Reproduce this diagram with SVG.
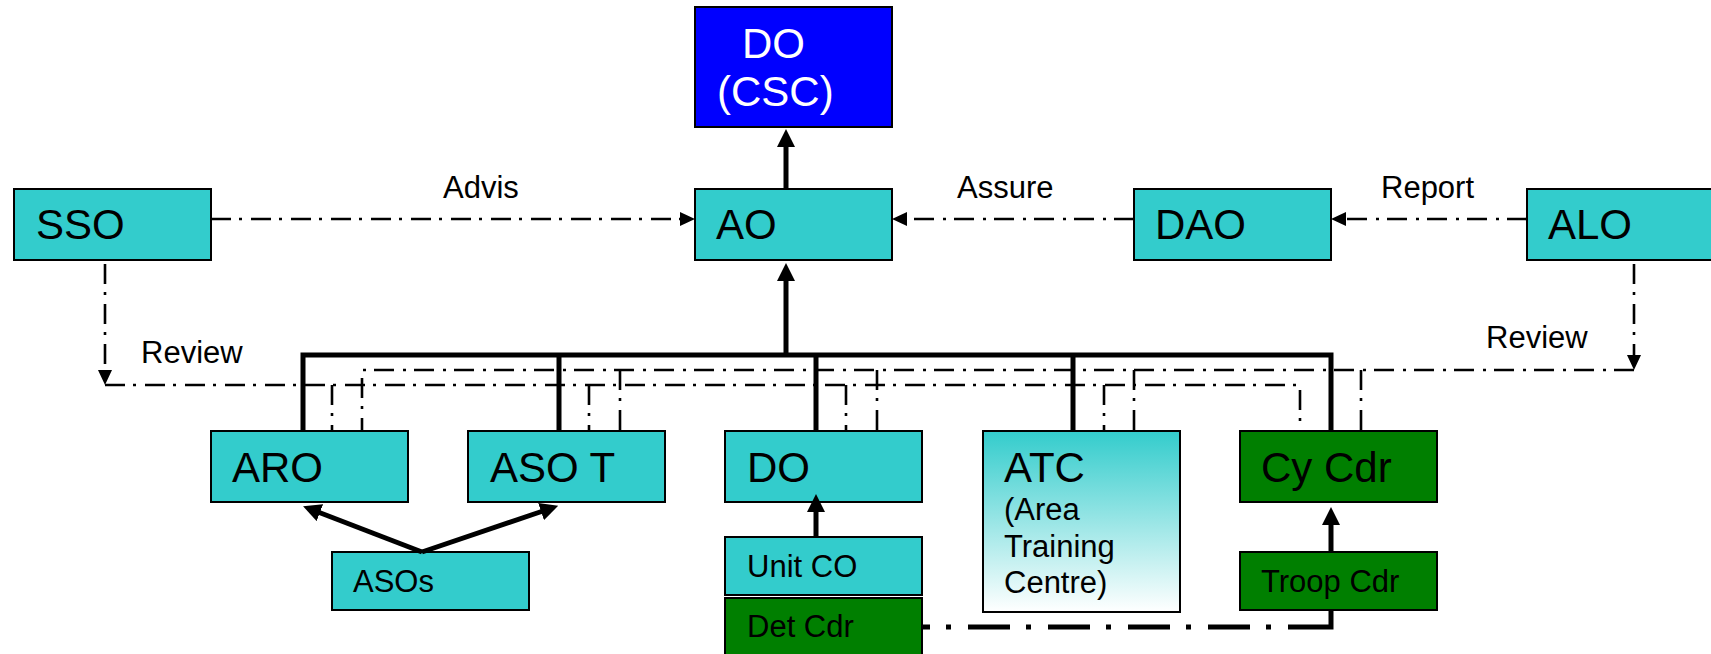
<svg xmlns="http://www.w3.org/2000/svg" width="1711" height="654" viewBox="0 0 1711 654">
<style>
  text { font-family: "Liberation Sans", Arial, sans-serif; fill: #000; }
  .big { font-size: 42px; }
  .sm { font-size: 31px; }
  .lbl { font-size: 31px; }
  .wt { fill: #fff; }
  .cy { fill: #33CCCC; stroke: #000; stroke-width: 2; }
  .gr { fill: #007F00; stroke: #000; stroke-width: 2; }
  .bl { fill: #0000FF; stroke: #000; stroke-width: 2; }
  .thick { fill: none; stroke: #000; stroke-width: 5; stroke-linejoin: miter; }
  .dd { fill: none; stroke: #000; stroke-width: 2.6; stroke-dasharray: 20 8 3 9; }
  .ddthick { fill: none; stroke: #000; stroke-width: 5; stroke-dasharray: 42 16 5 17; stroke-dashoffset: 34; }
</style>
<defs>
  <marker id="ah" markerUnits="userSpaceOnUse" markerWidth="18" markerHeight="18" refX="2" refY="9" orient="auto">
    <path d="M0,0 L18,9 L0,18 z" fill="#000"/>
  </marker>
  <marker id="ad" markerUnits="userSpaceOnUse" markerWidth="15" markerHeight="14" refX="1" refY="7" orient="auto">
    <path d="M0,0 L15,7 L0,14 z" fill="#000"/>
  </marker>
  <linearGradient id="atcg" x1="0" y1="0" x2="0" y2="1">
    <stop offset="0" stop-color="#33CCCC"/>
    <stop offset="1" stop-color="#FFFFFF"/>
  </linearGradient>
</defs>

<g id="nodes">
  <g id="csc"><rect class="bl" x="695" y="7" width="197" height="120"/>
    <text class="big wt" x="742" y="58" font-size="41">DO</text>
    <text class="big wt" x="717" y="106" font-size="41">(CSC)</text></g>
  <g id="ao"><rect class="cy" x="695" y="189" width="197" height="71"/><text class="big" x="716" y="239">AO</text></g>
  <g id="sso"><rect class="cy" x="14" y="189" width="197" height="71"/><text class="big" x="36" y="239">SSO</text></g>
  <g id="dao"><rect class="cy" x="1134" y="189" width="197" height="71"/><text class="big" x="1155" y="239">DAO</text></g>
  <g id="alo"><rect class="cy" x="1527" y="189" width="197" height="71"/><text class="big" x="1548" y="239">ALO</text></g>
  <g id="aro"><rect class="cy" x="211" y="431" width="197" height="71"/><text class="big" x="232" y="482">ARO</text></g>
  <g id="asot"><rect class="cy" x="468" y="431" width="197" height="71"/><text class="big" x="490" y="482">ASO T</text></g>
  <g id="do"><rect class="cy" x="725" y="431" width="197" height="71"/><text class="big" x="747" y="482">DO</text></g>
  <g id="atc"><rect x="983" y="431" width="197" height="181" fill="url(#atcg)" stroke="#000" stroke-width="2"/>
    <text class="big" x="1004" y="482">ATC</text>
    <text class="sm" x="1004" y="520">(Area</text>
    <text class="sm" x="1004" y="557">Training</text>
    <text class="sm" x="1004" y="593">Centre)</text></g>
  <g id="cycdr"><rect class="gr" x="1240" y="431" width="197" height="71"/><text class="big" x="1261" y="482">Cy Cdr</text></g>
  <g id="asos"><rect class="cy" x="332" y="552" width="197" height="58"/><text class="sm" x="353" y="592">ASOs</text></g>
  <g id="unitco"><rect class="cy" x="725" y="537" width="197" height="58"/><text class="sm" x="747" y="577">Unit CO</text></g>
  <g id="detcdr"><rect class="gr" x="725" y="598" width="197" height="62"/><text class="sm" x="747" y="637">Det Cdr</text></g>
  <g id="troopcdr"><rect class="gr" x="1240" y="552" width="197" height="58"/><text class="sm" x="1261" y="592">Troop Cdr</text></g>
</g>

<g id="connectors">
  <path class="thick" d="M786,189 V145" marker-end="url(#ah)"/>
  <path class="thick" d="M786,355 V279" marker-end="url(#ah)"/>
  <path class="thick" d="M303,431 V355 H1331 V431"/>
  <path class="thick" d="M559,355 V431 M816,355 V431 M1073,355 V431"/>
  <path class="thick" d="M422,552 L318,512" marker-end="url(#ah)"/>
  <path class="thick" d="M422,552 L543,511" marker-end="url(#ah)"/>
  <path class="thick" d="M816,537 V510" marker-end="url(#ah)"/>
  <path class="thick" d="M1331,552 V523" marker-end="url(#ah)"/>
  <path class="ddthick" d="M922,627 H1288"/>
  <path class="thick" d="M1288,627 H1331 V610"/>

  <path class="dd" d="M211,219 H681" marker-end="url(#ad)"/>
  <path class="dd" d="M1134,219 H906" marker-end="url(#ad)"/>
  <path class="dd" d="M1527,219 H1345" marker-end="url(#ad)"/>
  <path class="dd" d="M105,264 V371" marker-end="url(#ad)"/>
  <path class="dd" d="M1634,264 V356" marker-end="url(#ad)"/>
  <path class="dd" d="M105,385 H1300 V431"/>
  <path class="dd" d="M1634,370 H362 V431"/>
  <path class="dd" d="M332,385 V431 M589,385 V431 M846,385 V431 M1104,385 V431"/>
  <path class="dd" d="M620,370 V431 M877,370 V431 M1134,370 V431 M1361,370 V431"/>
</g>

<g id="labels">
  <text class="lbl" x="443" y="198">Advis</text>
  <text class="lbl" x="957" y="198">Assure</text>
  <text class="lbl" x="1381" y="198">Report</text>
  <text class="lbl" x="141" y="363">Review</text>
  <text class="lbl" x="1486" y="348">Review</text>
</g>
</svg>
